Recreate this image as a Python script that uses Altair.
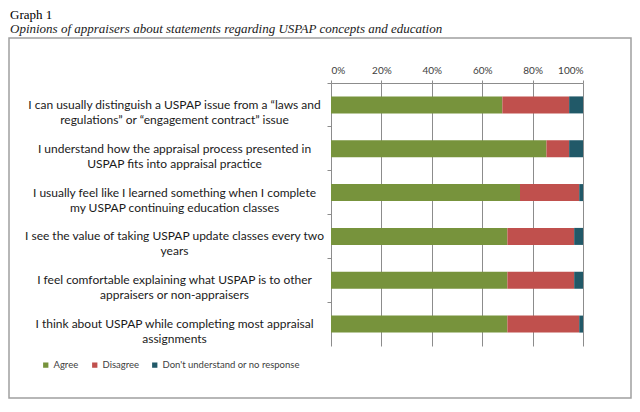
import altair as alt
import pandas as pd

statements = [
    "I can usually distinguish a USPAP issue from a \u201claws and\nregulations\u201d or \u201cengagement contract\u201d issue",
    "I understand how the appraisal process presented in\nUSPAP fits into appraisal practice",
    "I usually feel like I learned something when I complete\nmy USPAP continuing education classes",
    "I see the value of taking USPAP update classes every two\nyears",
    "I feel comfortable explaining what USPAP is to other\nappraisers or non-appraisers",
    "I think about USPAP while completing most appraisal\nassignments",
]
responses = ["Agree", "Disagree", "Don't understand or no response"]
agree = [68.0, 85.5, 75.0, 70.0, 70.0, 70.0]
disagree = [26.5, 9.0, 23.5, 26.5, 26.5, 28.5]
no_resp = [5.5, 5.5, 1.5, 3.5, 3.5, 1.5]
colors = ["#77933C", "#C0504D", "#215968"]
x_ticks = [0, 0.2, 0.4, 0.6, 0.8, 1.0]

rows = []
for i, s in enumerate(statements):
    for j, (r, v) in enumerate(zip(responses, [agree[i], disagree[i], no_resp[i]])):
        rows.append({"statement": s, "response": r, "order": j, "share": v / 100})
df = pd.DataFrame(rows)

W, H = 252, 263
GRAY = "#8C8C8C"

bars = alt.Chart(df).mark_bar(size=17).encode(
    y=alt.Y("statement:N", sort=statements, title=None,
            scale=alt.Scale(paddingInner=0, paddingOuter=0),
            axis=alt.Axis(domain=False, ticks=True, tickSize=4, tickColor=GRAY,
                          bandPosition=0, labelAlign="center", labelPadding=153,
                          labelExpr="split(datum.label, '\\n')",
                          labelFont="Lato", labelFontSize=12, labelColor="#1a1a1a",
                          labelLineHeight=15, labelBaseline="middle", labelLimit=400,
                          grid=False)),
    x=alt.X("share:Q", stack="zero", title=None,
            scale=alt.Scale(domain=[0, 1], nice=False),
            axis=alt.Axis(orient="top", values=x_ticks, format=".0%",
                          domainColor=GRAY, tickColor=GRAY, tickSize=3,
                          labelFont="Lato", labelFontSize=10, labelColor="#404040",
                          labelPadding=5, grid=True, gridColor=GRAY, gridWidth=1)),
    color=alt.Color("response:N", sort=responses,
                    scale=alt.Scale(domain=responses, range=colors),
                    legend=alt.Legend(title=None, orient="none", direction="horizontal",
                                      legendX=-290, legendY=277, symbolType="square",
                                      symbolSize=28, symbolStrokeWidth=0,
                                      labelFont="Lato", labelFontSize=9.5,
                                      labelColor="#404040", labelOffset=3,
                                      columnPadding=11)),
    order=alt.Order("order:Q"),
)

frame = alt.Chart(pd.DataFrame({"f": [0]})).mark_rect(
    fill="transparent", stroke="#A0A0A0", strokeWidth=1.5
).encode(
    x=alt.value(-322), x2=alt.value(300), y=alt.value(-45), y2=alt.value(315)
)

chart = alt.layer(frame, bars).properties(
    width=W, height=H,
    autosize=alt.AutoSizeParams(type="none"),
    padding={"left": 323, "top": 75, "right": 49, "bottom": 55},
    title=alt.TitleParams(
        text="Graph 1",
        subtitle="Opinions of appraisers about statements regarding USPAP concepts and education",
        anchor="start", frame="group", dx=-321, dy=-1, offset=0,
        font="Liberation Serif", fontSize=13, fontWeight="normal", color="#000000",
        subtitleFont="Liberation Serif", subtitleFontSize=13, subtitleFontStyle="italic",
        subtitleColor="#1a1a1a", subtitlePadding=1,
    ),
).configure_view(stroke="transparent")

chart.save("out.html", embed_options={"renderer": "svg", "actions": False})
